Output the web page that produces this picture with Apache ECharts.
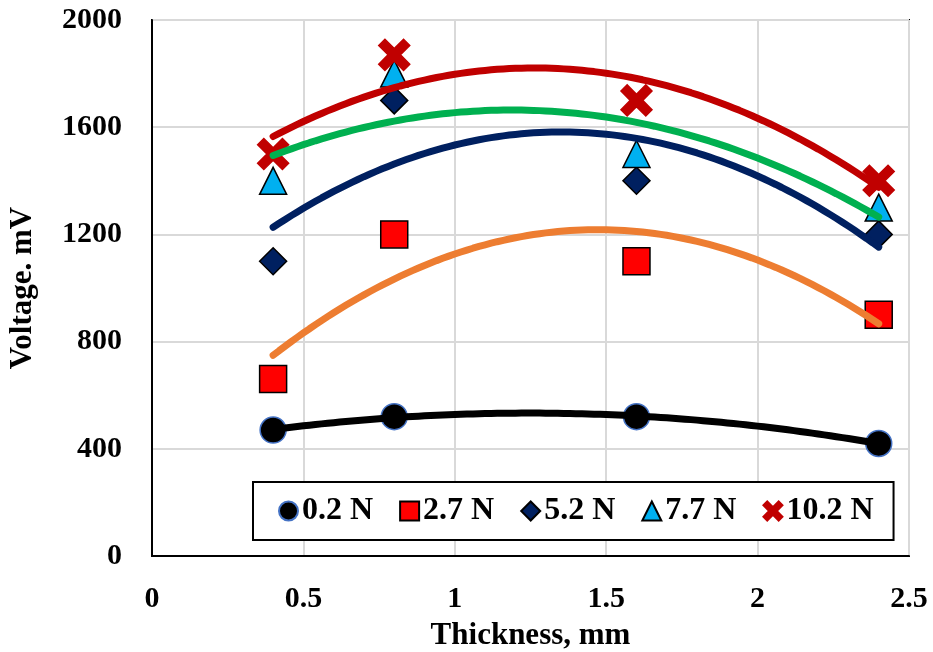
<!DOCTYPE html>
<html>
<head>
<meta charset="utf-8">
<script src="https://cdn.jsdelivr.net/npm/echarts@6/dist/echarts.min.js"></script>
<style>
  html, body { margin: 0; padding: 0; background: #fff; }
  #chart { width: 933px; height: 652px; }
</style>
</head>
<body>
<div id="chart"></div>
<script>
// data
const thickness = [0.4, 0.8, 1.6, 2.4]
const loadNames = ['0.2 N', '2.7 N', '5.2 N', '7.7 N', '10.2 N']
const volt02 = [470, 520, 520, 420]
const volt27 = [660, 1200, 1100, 900]
const volt52 = [1100, 1700, 1400, 1200]
const volt77 = [1400, 1800, 1500, 1300]
const volt102 = [1500, 1870, 1700, 1400]

const xTicks = [0, 0.5, 1, 1.5, 2, 2.5]
const yTicks = [0, 400, 800, 1200, 1600, 2000]

const crossPath = 'path://M0,4 L4,0 L10,6 L16,0 L20,4 L14,10 L20,16 L16,20 L10,14 L4,20 L0,16 L6,10 Z'

// marker styles per load
const looks = [
  { symbol: 'circle', size: 26, color: '#000000', border: '#4472C4', line: '#000000' },
  { symbol: 'rect', size: 27, color: '#FF0000', border: '#000000', line: '#ED7D31' },
  { symbol: 'diamond', size: 27, color: '#002060', border: '#000000', line: '#002060' },
  { symbol: 'triangle', size: 27, color: '#00B0F0', border: '#000000', line: '#00B050' },
  { symbol: crossPath, size: 31, color: '#C00000', border: '#C00000', line: '#C00000' }
]
const allVolts = [volt02, volt27, volt52, volt77, volt102]

// 2nd order polynomial trendline (least squares), like the spreadsheet one
function quadFit(xs, ys) {
  let s = [0, 0, 0, 0, 0], t = [0, 0, 0]
  xs.forEach((x, i) => {
    for (let k = 0; k < 5; k++) s[k] += Math.pow(x, k)
    for (let k = 0; k < 3; k++) t[k] += ys[i] * Math.pow(x, k)
  })
  let m = [[s[0], s[1], s[2], t[0]], [s[1], s[2], s[3], t[1]], [s[2], s[3], s[4], t[2]]]
  for (let i = 0; i < 3; i++) {
    for (let j = i + 1; j < 3; j++) {
      let f = m[j][i] / m[i][i]
      for (let k = i; k < 4; k++) m[j][k] -= f * m[i][k]
    }
  }
  let c = [0, 0, 0]
  for (let i = 2; i >= 0; i--) {
    let v = m[i][3]
    for (let k = i + 1; k < 3; k++) v -= m[i][k] * c[k]
    c[i] = v / m[i][i]
  }
  return c
}

function trendPoints(ys) {
  let c = quadFit(thickness, ys)
  let pts = []
  let x0 = thickness[0], x1 = thickness[thickness.length - 1]
  for (let i = 0; i <= 100; i++) {
    let x = x0 + (x1 - x0) * i / 100
    pts.push([x, c[0] + c[1] * x + c[2] * x * x])
  }
  return pts
}

const series = []
allVolts.forEach((ys, i) => {
  let lk = looks[i]
  series.push({
    name: loadNames[i],
    type: 'scatter',
    symbol: lk.symbol,
    symbolSize: lk.size,
    z: 2,
    itemStyle: { color: lk.color, borderColor: lk.border, borderWidth: 1.5, opacity: 1 },
    data: thickness.map((x, j) => [x, ys[j]])
  })
})
allVolts.forEach((ys, i) => {
  series.push({
    name: loadNames[i] + ' trend',
    type: 'line',
    showSymbol: false,
    smooth: false,
    z: 3,
    silent: true,
    lineStyle: { color: looks[i].line, width: 7, cap: 'round' },
    data: trendPoints(ys)
  })
})

const labelFont = { fontFamily: '"Liberation Serif", "Times New Roman", serif', fontWeight: 'bold', color: '#000' }

let myChart = echarts.init(document.getElementById('chart'))
myChart.setOption({
  animation: false,
  grid: {
    left: 152, right: 24, top: 20, bottom: 96,
    outerBoundsMode: 'none',
    containLabel: false,
    show: true,
    borderColor: '#000',
    borderWidth: 2
  },
  legend: {
    data: loadNames,
    left: 253,
    top: 482,
    padding: [13, 20, 13, 25],
    borderColor: '#000',
    borderWidth: 2,
    backgroundColor: '#fff',
    itemGap: 26,
    itemWidth: 19,
    itemHeight: 19,
    textStyle: Object.assign({ fontSize: 32, padding: [0, 0, 0, -1] }, labelFont)
  },
  xAxis: {
    type: 'value',
    min: xTicks[0],
    max: xTicks[xTicks.length - 1],
    interval: 0.5,
    name: 'Thickness, mm',
    nameLocation: 'middle',
    nameGap: 64,
    nameTextStyle: Object.assign({ fontSize: 31 }, labelFont),
    axisLine: { show: true, lineStyle: { color: '#000', width: 2 } },
    axisTick: { show: false },
    splitLine: { show: true, lineStyle: { color: '#D9D9D9', width: 2 } },
    axisLabel: Object.assign({ fontSize: 30, margin: 28 }, labelFont)
  },
  yAxis: {
    type: 'value',
    min: yTicks[0],
    max: yTicks[yTicks.length - 1],
    interval: 400,
    name: 'Voltage. mV',
    nameLocation: 'middle',
    nameGap: 114,
    nameTextStyle: Object.assign({ fontSize: 31 }, labelFont),
    axisLine: { show: true, lineStyle: { color: '#000', width: 2 } },
    axisTick: { show: false },
    splitLine: { show: true, lineStyle: { color: '#D9D9D9', width: 2 } },
    axisLabel: Object.assign({ fontSize: 30, margin: 30, formatter: v => String(v) }, labelFont)
  },
  series: series
})

window.addEventListener('resize', () => {
  myChart.resize()
})
</script>
</body>
</html>
